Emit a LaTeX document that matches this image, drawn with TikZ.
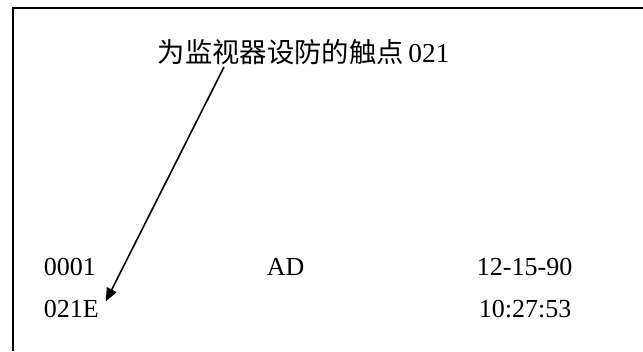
\documentclass[tikz,border=0pt]{standalone}
\usepackage{fontspec}
\setmainfont{Liberation Serif}
\newfontfamily\cjk{Noto Sans CJK SC}
\usepackage{tikz}
\usetikzlibrary{arrows.meta,positioning,calc}

\begin{document}
\begin{tikzpicture}[x=0.75pt, y=-0.75pt]
\tikzset{txt/.style={anchor=base west, inner sep=2pt, font=\fontsize{19.5}{23}\selectfont}}

\useasboundingbox (0,0) rectangle (643,351);

% Screen frame (only top and left edge visible)
\draw[line width=1.5pt] (13,351) -- (13,8) -- (643,8);

% Label
\node[txt, font=\fontsize{20.5}{24}\selectfont] (label) at (155,62) {{\cjk 为监视器设防的触点}\,021};
\coordinate (lead) at (224,67);

% Display lines
\node[txt] (num) at (41,275) {0001};
\node[txt] (mode) at (264,275) {AD};
\node[txt] (date) at (474,275) {12-15-90};
\node[txt] (zone) at (41,317) {021E};
\node[txt] (time) at (476,317) {10:27:53};

% Connections
\draw[line width=1.2pt, -{Triangle[length=10pt, width=8pt]}] (lead) -- ($(zone.east)+(4,-7)$);

\end{tikzpicture}
\end{document}
